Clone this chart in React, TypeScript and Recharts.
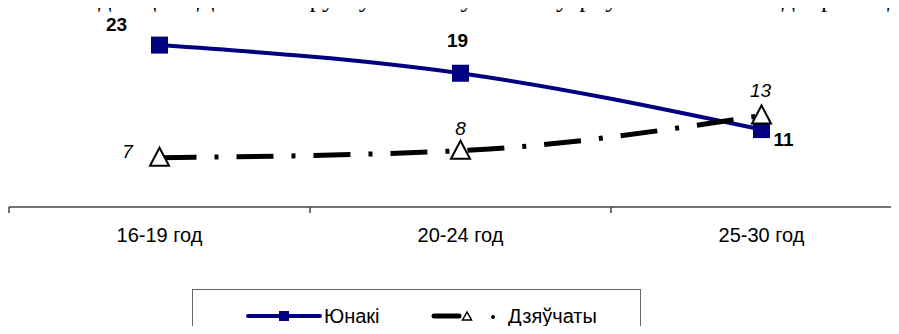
import React from 'react';
import { LineChart, Line, XAxis, YAxis, LabelList, ReferenceLine } from 'recharts';

const categories = ['16-19 год', '20-24 год', '25-30 год'];
const yunaki = [23, 19, 11];
const dziauchaty = [7, 8, 13];
const seriesNames = ['Юнакі', 'Дзяўчаты'];
const headline = 'ведаюць Дз. беларускую мову на ўзроўні «вельмі добра» да';

const data = categories.map((name, i) => ({
  x: i + 0.5,
  name,
  yunaki: yunaki[i],
  dziauchaty: dziauchaty[i],
}));

// label offsets from the point: [dx, dy to baseline]
const blueLabelOffsets = [[-43, -14], [-3, -26], [22, 16]];
const blackLabelOffsets = [[-32, 0], [0, -16], [-1, -18]];

const FONT = 'Arial, "Liberation Sans", sans-serif';
const NAVY = '#000080';

const Square = (props: any) => {
  const { cx, cy } = props;
  if (cx == null || cy == null) return null;
  return <rect x={cx - 8.5} y={cy - 8.5} width={17} height={17} fill={NAVY} />;
};

const Triangle = (props: any) => {
  const { cx, cy } = props;
  if (cx == null || cy == null) return null;
  return (
    <polygon
      points={`${cx},${cy - 10} ${cx - 9.5},${cy + 8} ${cx + 9.5},${cy + 8}`}
      fill="#fff" stroke="#000" strokeWidth={2}
    />
  );
};

const makeLabel = (offsets: number[][], bold: boolean) => (props: any) => {
  const { x, y, value, index } = props;
  const [dx, dy] = offsets[index] ?? [0, 0];
  return (
    <text x={x + dx} y={y + dy} textAnchor="middle" fontFamily={FONT} fontSize={19}
      fontWeight={bold ? 'bold' : 'normal'} fontStyle={bold ? 'normal' : 'italic'} fill="#000">
      {value}
    </text>
  );
};

// whole numbers = category boundaries (tick marks), halves = category centres (labels)
const AxisTick = (props: any) => {
  const { x, y, payload } = props;
  const v = payload.value as number;
  if (Number.isInteger(v)) {
    return <line x1={x} y1={y} x2={x} y2={y + 6} stroke="#444" strokeWidth={1.5} />;
  }
  return (
    <text x={x} y={y + 35} textAnchor="middle" fontFamily={FONT} fontSize={20} fill="#000">
      {categories[Math.floor(v)]}
    </text>
  );
};

export default function App() {
  return (
    <div style={{ position: 'relative', margin: -8, width: 899, height: 334, overflow: 'hidden', background: '#fff' }}>
      <svg width={899} height={20} style={{ position: 'absolute', left: 0, top: 0 }}>
        <text x={75} y={7} fontFamily='"Liberation Serif", "Times New Roman", serif' fontSize={26}
          wordSpacing={22} fill="#000">
          {headline}
        </text>
      </svg>
      <div style={{ position: 'absolute', left: 0, top: 0, width: 960, height: 334 }}>
        <LineChart width={960} height={334} data={data} margin={{ top: 31, right: 48, left: 9, bottom: 97 }}>
          <XAxis
            dataKey="x" type="number" domain={[0, 3]}
            ticks={[0, 0.5, 1, 1.5, 2, 2.5]}
            tick={<AxisTick />} tickLine={false} tickSize={0} tickMargin={0}
            axisLine={false} height={30}
            interval={0}
          />
          <YAxis hide domain={[0, 25]} />
          <ReferenceLine y={0} stroke="#444" strokeWidth={1.5} ifOverflow="visible" />
          <Line dataKey="yunaki" name={seriesNames[0]} type="monotone" stroke={NAVY} strokeWidth={4}
            dot={<Square />} activeDot={false} isAnimationActive={false}>
            <LabelList dataKey="yunaki" content={makeLabel(blueLabelOffsets, true)} />
          </Line>
          <Line dataKey="dziauchaty" name={seriesNames[1]} type="monotone" stroke="#000" strokeWidth={5}
            strokeDasharray="37 18 4 18" dot={<Triangle />} activeDot={false} isAnimationActive={false}>
            <LabelList dataKey="dziauchaty" content={makeLabel(blackLabelOffsets, false)} />
          </Line>
        </LineChart>
      </div>
      <div style={{ position: 'absolute', left: 192, top: 289, width: 449, height: 60, border: '1px solid #666', boxSizing: 'border-box' }} />
      <svg width={899} height={334} style={{ position: 'absolute', left: 0, top: 0, pointerEvents: 'none' }}>
        <line x1={248} y1={316} x2={320} y2={316} stroke={NAVY} strokeWidth={4} strokeLinecap="round" />
        <rect x={279} y={311} width={10} height={10} fill={NAVY} />
        <text x={324} y={323} fontFamily={FONT} fontSize={20} fill="#000">{seriesNames[0]}</text>
        <line x1={434} y1={316} x2={459} y2={316} stroke="#000" strokeWidth={5} strokeLinecap="round" />
        <polygon points="467,312 462.5,320 471.5,320" fill="#fff" stroke="#000" strokeWidth={1.5} />
        <circle cx={493} cy={317} r={2} fill="#000" />
        <text x={508} y={323} fontFamily={FONT} fontSize={20} fill="#000">{seriesNames[1]}</text>
      </svg>
    </div>
  );
}
